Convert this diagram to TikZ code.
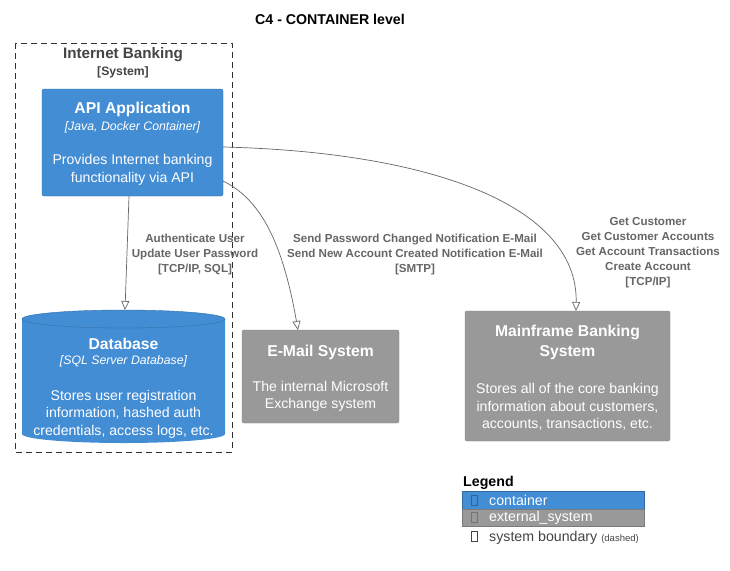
\documentclass[tikz,border=0pt]{standalone}
\usepackage{fontspec}
\setmainfont{Liberation Sans}
\usetikzlibrary{arrows.meta,shapes.geometric}
\definecolor{cblue}{HTML}{438DD5}
\definecolor{cgrey}{HTML}{999999}
\definecolor{lbl}{HTML}{666666}
\definecolor{bnd}{HTML}{444444}
\tikzset{
  px/.style={x=1pt,y=-1pt},
  ttl/.style={font=\fontsize{15.7}{20}\selectfont\bfseries},
  tech/.style={font=\fontsize{12.3}{14}\selectfont\itshape},
  desc/.style={font=\fontsize{14.1}{17.6}\selectfont, align=center},
  elab/.style={font=\fontsize{11.6}{15}\selectfont\bfseries, text=lbl, align=center},
  rel/.style={draw=lbl, line width=0.7pt, -{Triangle[open,length=9pt,width=8pt]}},
  boxbl/.style={draw=cblue!80!black, fill=cblue, rounded corners=2pt, line width=0.4pt},
  boxgr/.style={draw=cgrey!85!black, fill=cgrey, rounded corners=2pt, line width=0.4pt},
  txt/.style={inner sep=0pt, text=white},
  tofu/.style={draw, line width=0.5pt},
  legt/.style={font=\fontsize{14.2}{16}\selectfont, anchor=west, inner sep=0pt},
}
\begin{document}
\begin{tikzpicture}[px]
\useasboundingbox (0,0) rectangle (730,570);
\fill[white] (0,0) rectangle (730,570);
% title
\node[font=\fontsize{14.2}{16}\selectfont\bfseries, inner sep=0pt] (title) at (330,19) {C4 - CONTAINER level};
% boundary
\draw[dashed, dash pattern=on 6pt off 4pt, line width=0.7pt, draw=bnd!70!black] (15,43) rectangle (232,452);
\node[font=\fontsize{15.2}{17}\selectfont\bfseries, text=bnd, inner sep=0pt] (ibt) at (123,55) {Internet Banking};
\node[font=\fontsize{12.2}{13}\selectfont\bfseries, text=bnd, inner sep=0pt] (ibs) at (123,72.5) {[System]};
% API application
\draw[boxbl] (42,89) rectangle (223,196);
\node (api) at (132.5,142.5) [minimum width=181pt, minimum height=107pt, inner sep=0pt] {};
\node[txt, ttl] (apit) at (132.5,109) {API Application};
\node[txt, tech] (apitech) at (132.5,127) {[Java, Docker Container]};
\node[txt, desc] (apid) at (132.5,170) {Provides Internet banking\\functionality via API};
% Database cylinder
\fill[cblue] (22,319) -- (22,434) arc[start angle=180, end angle=360, x radius=101.5pt, y radius=9pt] -- (225,319) arc[start angle=0, end angle=180, x radius=101.5pt, y radius=9pt] -- cycle;
\draw[cblue!80!black, line width=0.4pt] (22,319) arc[start angle=180, end angle=360, x radius=101.5pt, y radius=9pt];
\draw[cblue!80!black, line width=0.4pt] (22,319) arc[start angle=180, end angle=0, x radius=101.5pt, y radius=9pt];
\coordinate (dbtop) at (125,310);
\node[txt, ttl] (dbt) at (123.5,344) {Database};
\node[txt, tech] (dbtech) at (123.5,361) {[SQL Server Database]};
\node[txt, desc] (dbd) at (123.5,414) {Stores user registration\\information, hashed auth\\credentials, access logs, etc.};
% E-Mail system
\draw[boxgr] (242,330) rectangle (399,423);
\node (mail) at (320.5,376.5) [minimum width=157pt, minimum height=93pt, inner sep=0pt] {};
\node[txt, ttl] (mailt) at (320.5,352) {E-Mail System};
\node[txt, desc] (maild) at (320.5,396.5) {The internal Microsoft\\Exchange system};
% Mainframe
\draw[boxgr] (465,311) rectangle (670,441);
\node (mf) at (567.5,376) [minimum width=205pt, minimum height=130pt, inner sep=0pt] {};
\node[txt, ttl, align=center] (mft) at (567.5,342) {Mainframe Banking\\System};
\node[txt, desc] (mfd) at (567.5,407) {Stores all of the core banking\\information about customers,\\accounts, transactions, etc.};
% connectors
\coordinate (a1) at (129,196);
\coordinate (a2) at (223,181);
\coordinate (a3) at (223,147);
\coordinate (mailtop) at (298,330);
\coordinate (mftop) at (576,311);
\draw[rel] (a1) -- (dbtop);
\draw[rel] (a2) .. controls (262,200) and (283,245) .. (mailtop);
\draw[rel] (a3) .. controls (430,152) and (578,205) .. (mftop);
% labels
\node[elab, inner sep=0pt] (l1) at (195,254) {Authenticate User\\Update User Password\\{}[TCP/IP, SQL]};
\node[elab, inner sep=0pt] (l2) at (415,254) {Send Password Changed Notification E-Mail\\Send New Account Created Notification E-Mail\\{}[SMTP]};
\node[elab, inner sep=0pt] (l3) at (648,253) {Get Customer\\Get Customer Accounts\\Get Account Transactions\\Create Account\\{}[TCP/IP]};
% legend
\node[font=\fontsize{14.2}{16}\selectfont\bfseries, anchor=west, inner sep=0pt] (leg) at (463,483) {Legend};
\fill[cblue] (462,491) rectangle (644,509);
\draw[cblue!75!black, line width=0.4pt] (462,491) rectangle (644,509);
\fill[cgrey] (462,509) rectangle (644,526);
\draw[cgrey!80!black, line width=0.4pt] (462,509) rectangle (644,526);
\draw[tofu, draw=cblue!70!black] (471,495) rectangle (477,505);
\draw[tofu, draw=cgrey!75!black] (471,512.5) rectangle (477,522.5);
\draw[tofu, draw=bnd] (471,531) rectangle (477,541);
\node[legt, text=white] (lg1) at (489,500.5) {container};
\node[legt, text=white] (lg2) at (489,517.5) {external\_system};
\node[legt, text=bnd, anchor=base west] (lg3) at (489,541) {system boundary \fontsize{9.5}{11}\selectfont(dashed)};
\end{tikzpicture}
\end{document}
